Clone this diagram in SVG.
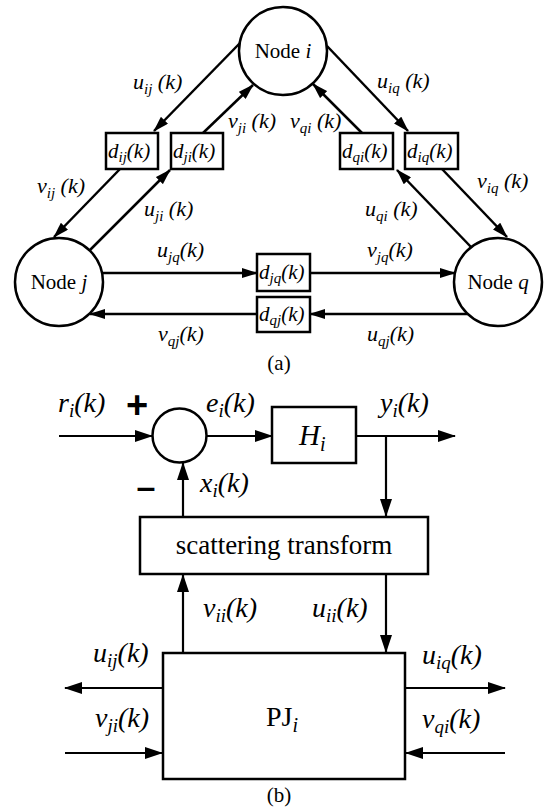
<svg xmlns="http://www.w3.org/2000/svg" width="545" height="812" viewBox="0 0 545 812">
<defs>
<marker id="ah" viewBox="0 0 16 10" refX="15" refY="5" markerWidth="16" markerHeight="10" orient="auto" markerUnits="userSpaceOnUse"><path d="M0,0 L16,5 L0,10 z" fill="#000"/></marker>
<marker id="ahb" viewBox="0 0 18 12" refX="17" refY="6" markerWidth="18" markerHeight="12" orient="auto" markerUnits="userSpaceOnUse"><path d="M0,0 L18,6 L0,12 z" fill="#000"/></marker>
<style>
.nd{fill:#fff;stroke:#000;stroke-width:2.5}
.bx{fill:#fff;stroke:#000;stroke-width:2.5}
.la{stroke:#000;stroke-width:2.5;fill:none;marker-end:url(#ah)}
.lb{stroke:#000;stroke-width:2.2;fill:none;marker-end:url(#ahb)}
.t{font-family:"Liberation Serif","Times New Roman",serif;fill:#000}
.a{font-size:22px;font-style:italic}
.d{font-size:21px;font-style:italic}
.b{font-size:28px;font-style:italic}
.s{font-size:15px}
.sb{font-size:19px}
.n{font-size:21px}
.sg{font-family:"Liberation Sans",Arial,sans-serif;font-weight:bold;font-style:normal;fill:#000}
</style>
</defs>
<g id="connectors">
<line class="la" x1="240" y1="43" x2="154" y2="131"/>
<line class="la" x1="120" y1="169" x2="54" y2="237"/>
<line class="la" x1="90" y1="250" x2="170" y2="170"/>
<line class="la" x1="203" y1="133" x2="253" y2="85"/>
<line class="la" x1="327" y1="46" x2="408" y2="131"/>
<line class="la" x1="442" y1="169" x2="507" y2="237"/>
<line class="la" x1="471" y1="247" x2="397" y2="170"/>
<line class="la" x1="362" y1="133" x2="313" y2="84"/>
<line class="la" x1="103" y1="273" x2="257" y2="273"/>
<line class="la" x1="310" y1="273" x2="455" y2="273"/>
<line class="la" x1="468" y1="314" x2="310" y2="314"/>
<line class="la" x1="257" y1="314" x2="90" y2="314"/>
<line class="lb" x1="59" y1="436" x2="152" y2="436"/>
<line class="lb" x1="207" y1="436" x2="272" y2="436"/>
<line class="lb" x1="356" y1="436" x2="455" y2="436"/>
<line class="lb" x1="386" y1="436" x2="386" y2="516"/>
<line class="lb" x1="183" y1="517" x2="183" y2="463"/>
<line class="lb" x1="183" y1="653" x2="183" y2="575"/>
<line class="lb" x1="386" y1="574" x2="386" y2="652"/>
<line class="lb" x1="163" y1="688" x2="65" y2="688"/>
<line class="lb" x1="65" y1="753" x2="162" y2="753"/>
<line class="lb" x1="405" y1="688" x2="505" y2="688"/>
<line class="lb" x1="505" y1="753" x2="406" y2="753"/>
</g>
<g id="node-i"><circle class="nd" cx="283" cy="51" r="44"/><text class="t n" x="283" y="58" text-anchor="middle">Node <tspan font-style="italic">i</tspan></text></g>
<g id="node-j"><circle class="nd" cx="59" cy="282" r="44"/><text class="t n" x="59" y="289" text-anchor="middle">Node <tspan font-style="italic">j</tspan></text></g>
<g id="node-q"><circle class="nd" cx="498" cy="282" r="44"/><text class="t n" x="498" y="289" text-anchor="middle">Node <tspan font-style="italic">q</tspan></text></g>
<g id="d-ij"><rect class="bx" x="106" y="133" width="52" height="36"/><text class="t d" x="108" y="158">d<tspan class="s" dy="4">ij</tspan><tspan dy="-4">(k)</tspan></text></g>
<g id="d-ji"><rect class="bx" x="171" y="133" width="52" height="36"/><text class="t d" x="173" y="158">d<tspan class="s" dy="4">ji</tspan><tspan dy="-4">(k)</tspan></text></g>
<g id="d-qi"><rect class="bx" x="340" y="133" width="53" height="36"/><text class="t d" x="342" y="158">d<tspan class="s" dy="4">qi</tspan><tspan dy="-4">(k)</tspan></text></g>
<g id="d-iq"><rect class="bx" x="405" y="133" width="53" height="36"/><text class="t d" x="407" y="158">d<tspan class="s" dy="4">iq</tspan><tspan dy="-4">(k)</tspan></text></g>
<g id="d-jq"><rect class="bx" x="257" y="254" width="53" height="37"/><text class="t d" x="259" y="279">d<tspan class="s" dy="4">jq</tspan><tspan dy="-4">(k)</tspan></text></g>
<g id="d-qj"><rect class="bx" x="257" y="297" width="53" height="35"/><text class="t d" x="259" y="321">d<tspan class="s" dy="4">qj</tspan><tspan dy="-4">(k)</tspan></text></g>
<g id="labels-a" class="t a">
<text x="133" y="89">u<tspan class="s" dy="5">ij</tspan><tspan dy="-5"> (k)</tspan></text>
<text x="228" y="128">v<tspan class="s" dy="5">ji</tspan><tspan dy="-5"> (k)</tspan></text>
<text x="290" y="128">v<tspan class="s" dy="5">qi</tspan><tspan dy="-5"> (k)</tspan></text>
<text x="377" y="88">u<tspan class="s" dy="5">iq</tspan><tspan dy="-5"> (k)</tspan></text>
<text x="37" y="193">v<tspan class="s" dy="5">ij</tspan><tspan dy="-5"> (k)</tspan></text>
<text x="477" y="188">v<tspan class="s" dy="5">iq</tspan><tspan dy="-5"> (k)</tspan></text>
<text x="144" y="216">u<tspan class="s" dy="5">ji</tspan><tspan dy="-5"> (k)</tspan></text>
<text x="365" y="216">u<tspan class="s" dy="5">qi</tspan><tspan dy="-5"> (k)</tspan></text>
<text x="157" y="257">u<tspan class="s" dy="5">jq</tspan><tspan dy="-5">(k)</tspan></text>
<text x="367" y="257">v<tspan class="s" dy="5">jq</tspan><tspan dy="-5">(k)</tspan></text>
<text x="158" y="341">v<tspan class="s" dy="5">qj</tspan><tspan dy="-5">(k)</tspan></text>
<text x="367" y="341">u<tspan class="s" dy="5">qj</tspan><tspan dy="-5">(k)</tspan></text>
</g>
<text class="t" x="279" y="370" font-size="21" text-anchor="middle">(a)</text>
<g id="sum"><circle class="nd" cx="179.5" cy="435.5" r="27"/></g>
<g id="H"><rect class="bx" x="272" y="407" width="84" height="56"/><text class="t" x="299" y="445" font-size="29" font-style="italic">H<tspan font-size="20" dy="6">i</tspan></text></g>
<g id="scattering"><rect class="bx" x="140" y="517" width="288" height="57"/><text class="t" x="284" y="554" font-size="27" text-anchor="middle">scattering transform</text></g>
<g id="PJ"><rect class="bx" x="163" y="653" width="242" height="126"/><text class="t" x="266" y="726" font-size="28">PJ<tspan font-size="20" font-style="italic" dy="6">i</tspan></text></g>
<g id="labels-b" class="t b">
<text x="58" y="412">r<tspan class="sb" dy="5">i</tspan><tspan dy="-5">(k)</tspan></text>
<text x="206" y="412">e<tspan class="sb" dy="5">i</tspan><tspan dy="-5">(k)</tspan></text>
<text x="380" y="412">y<tspan class="sb" dy="5">i</tspan><tspan dy="-5">(k)</tspan></text>
<text x="200" y="492">x<tspan class="sb" dy="5">i</tspan><tspan dy="-5">(k)</tspan></text>
<text x="203" y="617">v<tspan class="sb" dy="5">ii</tspan><tspan dy="-5">(k)</tspan></text>
<text x="312" y="617">u<tspan class="sb" dy="5">ii</tspan><tspan dy="-5">(k)</tspan></text>
<text x="93" y="662">u<tspan class="sb" dy="5">ij</tspan><tspan dy="-5">(k)</tspan></text>
<text x="95" y="727">v<tspan class="sb" dy="5">ji</tspan><tspan dy="-5">(k)</tspan></text>
<text x="422" y="664">u<tspan class="sb" dy="5">iq</tspan><tspan dy="-5">(k)</tspan></text>
<text x="422" y="728">v<tspan class="sb" dy="5">qi</tspan><tspan dy="-5">(k)</tspan></text>
</g>
<text class="sg" x="137" y="418" font-size="38" text-anchor="middle">+</text>
<text class="sg" x="146" y="498" font-size="34" text-anchor="middle">–</text>
<text class="t" x="279" y="802" font-size="21" text-anchor="middle">(b)</text>
</svg>
